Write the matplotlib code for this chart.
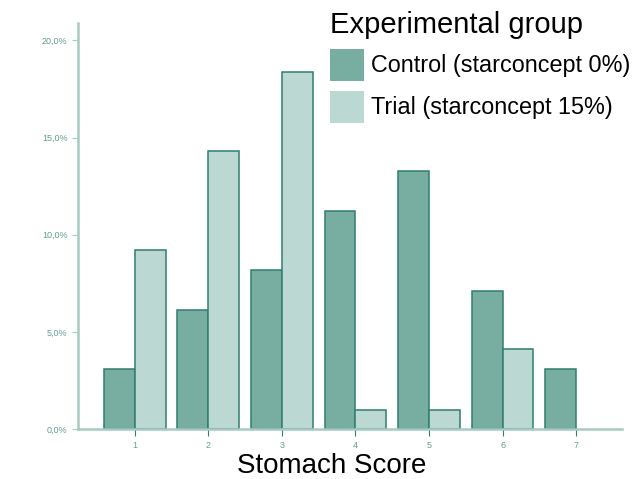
import matplotlib.pyplot as plt
from matplotlib.patches import Patch
from matplotlib.ticker import FuncFormatter

plt.rcParams['font.family'] = ['Liberation Sans', 'DejaVu Sans']

# ── Datos ─────────────────────────────────────────────────────────────────────
scores = [1, 2, 3, 4, 5, 6, 7]
control = [3.1, 6.1, 8.2, 11.2, 13.3, 7.1, 3.1]
trial = [9.2, 14.3, 18.4, 1.0, 1.0, 4.1]
group_labels = ['Control (starconcept 0%)', 'Trial (starconcept 15%)']
yticks = [0, 5, 10, 15, 20]

c_control = '#78ada2'
c_trial = '#bcd8d2'
c_edge = '#2f7f6f'
c_axis = '#a6cbc3'

fig = plt.figure(figsize=(6.41, 4.79), dpi=100)
ax = fig.add_axes([0.1217, 0.1044, 0.8483, 0.8476])

w = 0.42
ax.bar([s - w / 2 for s in scores], control, width=w, color=c_control,
       edgecolor=c_edge, linewidth=1.1)
ax.bar([s + w / 2 for s in scores[:len(trial)]], trial, width=w, color=c_trial,
       edgecolor=c_edge, linewidth=1.1)

ax.set_xlim(0.23, 7.62)
ax.set_ylim(0, 20.9)
ax.set_xticks(scores)
ax.set_yticks(yticks)
ax.yaxis.set_major_formatter(FuncFormatter(lambda v, p: f'{v:.1f}%'.replace('.', ',')))

for side in ['top', 'right']:
    ax.spines[side].set_visible(False)
for side in ['left', 'bottom']:
    ax.spines[side].set_color(c_axis)
    ax.spines[side].set_linewidth(1.8)

ax.tick_params(axis='y', colors=c_axis, labelcolor='#5f9f92', labelsize=6.5, length=4)
ax.tick_params(axis='x', colors=c_edge, labelcolor='#5f9f92', labelsize=6.5, length=5)

ax.set_xlabel('Stomach Score', fontsize=20)
ax.xaxis.set_label_coords(0.467, -0.06)

handles = [Patch(facecolor=c_control, edgecolor='none'),
           Patch(facecolor=c_trial, edgecolor='none')]
leg = ax.legend(handles, group_labels, title='Experimental group', fontsize=16.8,
                title_fontsize=21, frameon=False, alignment='left',
                loc='upper left', bbox_to_anchor=(0.49, 1.012),
                bbox_transform=fig.transFigure,
                handlelength=1.45, handleheight=1.7, handletextpad=0.3,
                labelspacing=0.45, borderpad=0.2)

fig.savefig('out.png', dpi=100)
